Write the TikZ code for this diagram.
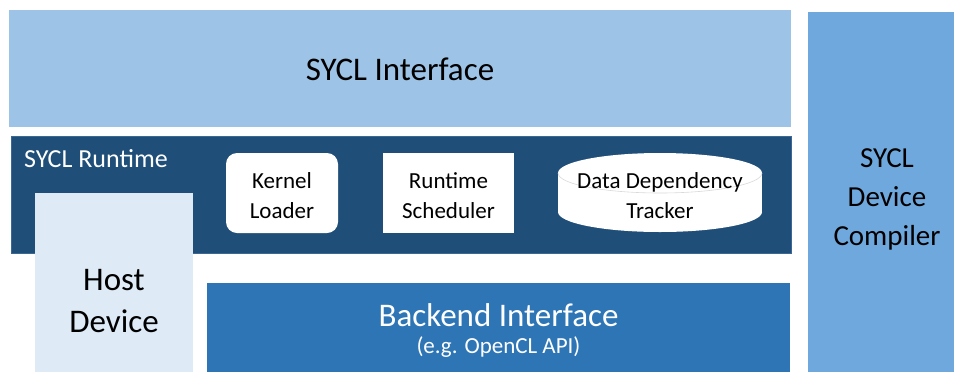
\documentclass[tikz,border=0pt]{standalone}
\usepackage{fontspec}
\setmainfont{Carlito}
\definecolor{ifaceblue}{HTML}{9DC3E6}
\definecolor{runtimeblue}{HTML}{1F4E79}
\definecolor{runtimeedge}{HTML}{3A6794}
\definecolor{hostblue}{HTML}{DEEBF7}
\definecolor{backendblue}{HTML}{2E75B6}
\definecolor{compilerblue}{HTML}{6FA8DC}
\newcommand{\toppad}[1]{\rule{0pt}{#1}}
\usetikzlibrary{positioning}

\begin{document}
\begin{tikzpicture}[x=1bp, y=-1bp,
      layer/.style={inner sep=0pt, align=center,
                    font=\fontsize{33bp}{40bp}\selectfont},
      part/.style={fill=white, inner sep=0pt, align=center,
                   minimum height=80bp, font=\fontsize{23bp}{30bp}\selectfont}
    ]
    \useasboundingbox (0,0) rectangle (954,371);
    \clip (0,0) rectangle (954,371);
    % layers
    \node[layer, fill=ifaceblue, minimum width=782bp, minimum height=117bp,
          text height=24.4bp, text depth=0bp] (iface) at (400,68.5) {SYCL Interface};
    \node[layer, fill=runtimeblue, draw=runtimeedge, line width=0.75bp,
          minimum width=780bp, minimum height=117bp] (runtime) at (401,194.5) {};
    \node[anchor=base west, inner sep=0pt, text=white,
          font=\fontsize{26bp}{30bp}\selectfont] (rtlabel) at (24,167) {SYCL Runtime};
    \node[layer, fill=hostblue, minimum width=158bp, minimum height=216bp,
          font=\fontsize{33bp}{42bp}\selectfont] (host) at (114,301) {Host\\Device};
    % runtime parts
    \node[part, rounded corners=11bp, minimum width=112bp] (kernel) at (282,193)
      {\toppad{21bp}Kernel\\Loader};
    \node[part, minimum width=131bp] (sched) at (448.5,193) {\toppad{21bp}Runtime\\Scheduler};
    \coordinate (dbtop) at (660,173);
    \coordinate (dbbot) at (660,212);
    \fill[white] (dbbot) ellipse [x radius=102, y radius=20];
    \fill[white] (558,173) rectangle (762,212);
    \fill[white] (dbtop) ellipse [x radius=102, y radius=20];
    \draw[black!15, line width=0.6bp] (558,173) arc [start angle=180, end angle=0, x radius=102, y radius=20];
    \node[inner sep=0pt, align=center, font=\fontsize{23bp}{30bp}\selectfont]
      (tracker) at (660,195.5) {Data Dependency\\Tracker};
    % backend and compiler
    \node[layer, fill=backendblue, text=white, minimum width=583bp, minimum height=96bp]
      (backend) at (498.5,331) {Backend Interface\\[-13bp]{\fontsize{23bp}{27bp}\selectfont (e.g. OpenCL API)}};
    \node[inner sep=0pt, align=center, fill=compilerblue, minimum width=158bp, minimum height=374bp,
          font=\fontsize{29bp}{39bp}\selectfont] (compiler) at (887,199) {SYCL\\Device\\Compiler};
  \end{tikzpicture}
\end{document}
